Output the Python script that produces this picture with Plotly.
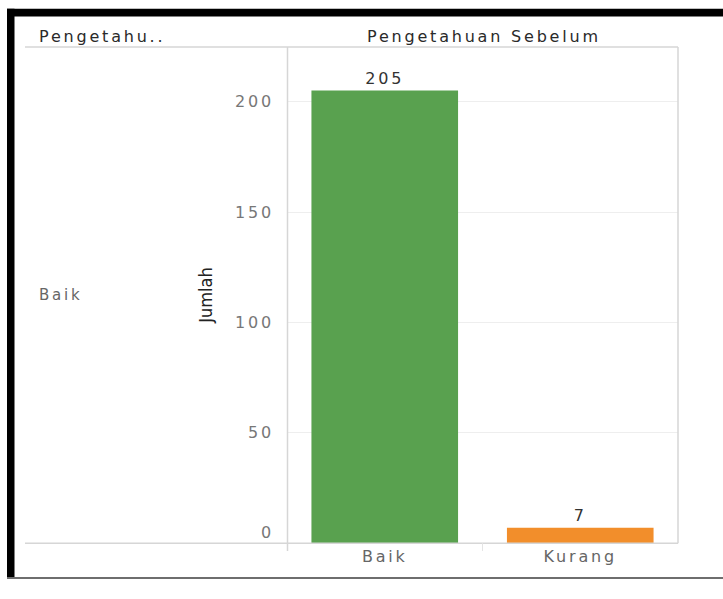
import plotly.graph_objects as go

categories = ["Baik", "Kurang"]
values = [205, 7]
colors = ["#59A14F", "#F28E2B"]
ytick_vals = [0, 50, 100, 150, 200]
row_label = "Baik"
col_header_left = "Pengetahu.."
col_header = "Pengetahuan Sebelum"
y_title = "Jumlah"

W, H = 723, 599
FONT = "DejaVu Sans"
LS = "letter-spacing:2.8px"


def px(x):
    return x / W


def py(y):
    return 1 - y / H


def sp(t):
    return f'<span style="{LS}">{t}</span>'


ytick_text = [sp(str(v)) + ("<br> " if v == 0 else "") for v in ytick_vals]

fig = go.Figure()
fig.add_trace(go.Bar(
    x=categories, y=values,
    marker=dict(color=colors, line=dict(width=0)),
    text=[sp(str(v)) for v in values],
    textposition="outside",
    textfont=dict(family=FONT, size=16, color="#333333"),
    cliponaxis=False,
    width=0.75,
))

fig.update_layout(
    width=W, height=H,
    margin=dict(l=0, r=0, t=0, b=0),
    paper_bgcolor="white", plot_bgcolor="white",
    showlegend=False,
    font=dict(family=FONT),
    xaxis=dict(
        domain=[px(287), px(678)],
        range=[-0.5, 1.5],
        tickvals=categories,
        ticktext=[sp(c) for c in categories],
        tickfont=dict(family=FONT, size=16, color="#666666"),
        showgrid=False, zeroline=False, showline=False, ticks="",
        ticklabelstandoff=2,
    ),
    yaxis=dict(
        domain=[py(562), py(48)],
        range=[0, 225],
        tickvals=ytick_vals,
        ticktext=ytick_text,
        tickfont=dict(family=FONT, size=16, color="#777777"),
        showgrid=True, gridcolor="#eeeeee", gridwidth=1,
        zeroline=False, showline=False, ticks="",
        ticklabelstandoff=12,
    ),
)

line_col = "#d6d6d6"
shapes = [
    dict(type="rect", xref="paper", yref="paper", x0=px(7), x1=1.0, y0=py(17), y1=py(9),
         fillcolor="black", line=dict(width=0), layer="above"),
    dict(type="rect", xref="paper", yref="paper", x0=px(7), x1=px(14.5), y0=0, y1=py(9),
         fillcolor="black", line=dict(width=0), layer="above"),
    dict(type="line", xref="paper", yref="paper", x0=px(7), x1=1.0, y0=py(598), y1=py(598),
         line=dict(color="#6e6e6e", width=2)),
    dict(type="line", xref="paper", yref="paper", x0=px(25), x1=px(678), y0=py(48.5), y1=py(48.5),
         line=dict(color=line_col, width=1.5)),
    dict(type="line", xref="paper", yref="paper", x0=px(25), x1=px(678), y0=py(562), y1=py(562),
         line=dict(color=line_col, width=1.5)),
    dict(type="line", xref="paper", yref="paper", x0=px(287.5), x1=px(287.5), y0=py(570), y1=py(48.5),
         line=dict(color=line_col, width=1.5)),
    dict(type="line", xref="paper", yref="paper", x0=px(678), x1=px(678), y0=py(562), y1=py(48.5),
         line=dict(color=line_col, width=1.5)),
    dict(type="line", xref="x", yref="paper", x0=0.5, x1=0.5, y0=py(570), y1=py(562),
         line=dict(color="#e4e4e4", width=1)),
]
fig.update_layout(shapes=shapes)

annotations = [
    dict(text=sp(col_header_left), xref="paper", yref="paper", x=px(37), y=py(38),
         xanchor="left", yanchor="middle", showarrow=False,
         font=dict(family=FONT, size=16, color="#2a2a2a")),
    dict(text=sp(col_header), xref="paper", yref="paper", x=px(484), y=py(38),
         xanchor="center", yanchor="middle", showarrow=False,
         font=dict(family=FONT, size=16, color="#2a2a2a")),
    dict(text=sp(row_label), xref="paper", yref="paper", x=px(37), y=py(305),
         xanchor="left", yanchor="middle", showarrow=False,
         font=dict(family=FONT, size=15, color="#666666")),
    dict(text=y_title, xref="paper", yref="paper", x=px(206), y=py(306),
         xanchor="center", yanchor="middle", showarrow=False, textangle=-90,
         font=dict(family="Liberation Sans Narrow, DejaVu Sans Condensed, Arial Narrow, sans-serif",
                   size=18, color="#222222")),
]
fig.update_layout(annotations=annotations)

fig.write_html("out.html")
